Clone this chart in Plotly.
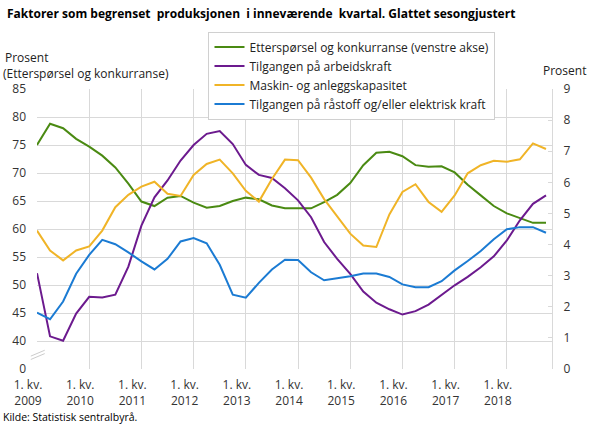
import plotly.graph_objects as go

years = list(range(2009, 2019))
quarters = [f"{y}K{q}" for y in years for q in range(1, 5)]
xidx = list(range(len(quarters)))

tick_positions = [i * 4 for i in range(10)]
tick_labels = [f"1. kv.<br>{y}" for y in years]

# Left axis (Etterspørsel og konkurranse), prosent
ettersporsel = [75.0, 78.8, 78.0, 76.1, 74.7, 73.1, 71.0, 68.1, 64.9, 64.1,
                65.6, 65.9, 64.7, 63.8, 64.1, 65.0, 65.6, 65.3, 64.2, 63.7,
                63.7, 63.7, 64.8, 66.1, 68.2, 71.4, 73.6, 73.8, 73.0, 71.4,
                71.1, 71.2, 70.1, 67.9, 66.0, 64.1, 62.8, 62.0, 61.1, 61.1]

# Right axis, prosent
arbeidskraft = [3.08, 1.05, 0.91, 1.78, 2.32, 2.30, 2.39, 3.29, 4.61, 5.52,
                6.06, 6.70, 7.20, 7.56, 7.65, 7.23, 6.56, 6.24, 6.14, 5.81,
                5.42, 4.88, 4.08, 3.54, 3.06, 2.49, 2.13, 1.92, 1.75, 1.86,
                2.07, 2.37, 2.69, 2.96, 3.27, 3.62, 4.13, 4.78, 5.31, 5.58]

maskin = [4.45, 3.81, 3.49, 3.81, 3.94, 4.45, 5.20, 5.60, 5.86, 6.02,
          5.63, 5.56, 6.24, 6.59, 6.73, 6.29, 5.73, 5.38, 6.11, 6.73,
          6.71, 6.15, 5.46, 4.90, 4.35, 3.97, 3.92, 4.97, 5.69, 5.94,
          5.37, 5.05, 5.58, 6.29, 6.55, 6.69, 6.66, 6.74, 7.25, 7.07]

raastoff = [1.81, 1.60, 2.17, 3.06, 3.67, 4.15, 4.01, 3.75, 3.46, 3.20,
            3.54, 4.10, 4.21, 4.04, 3.35, 2.39, 2.29, 2.77, 3.20, 3.51,
            3.50, 3.11, 2.85, 2.91, 2.98, 3.07, 3.07, 2.96, 2.72, 2.63,
            2.63, 2.82, 3.17, 3.47, 3.79, 4.17, 4.49, 4.56, 4.56, 4.38]

left_tickvals = [35, 40, 45, 50, 55, 60, 65, 70, 75, 80, 85]
left_ticktext = ["0", "40", "45", "50", "55", "60", "65", "70", "75", "80", "85"]

names = ["Etterspørsel og konkurranse (venstre akse)",
         "Tilgangen på arbeidskraft",
         "Maskin- og anleggskapasitet",
         "Tilgangen på råstoff og/eller elektrisk kraft"]
colors = ["#4a8a12", "#6c1a8e", "#f0b427", "#1b7bd3"]

FONT = "Open Sans"
fig = go.Figure()
fig.add_trace(go.Scatter(x=xidx, y=ettersporsel, name=names[0], mode="lines",
                         line=dict(color=colors[0], width=2), yaxis="y"))
fig.add_trace(go.Scatter(x=xidx, y=arbeidskraft, name=names[1], mode="lines",
                         line=dict(color=colors[1], width=2), yaxis="y2"))
fig.add_trace(go.Scatter(x=xidx, y=maskin, name=names[2], mode="lines",
                         line=dict(color=colors[2], width=2), yaxis="y2"))
fig.add_trace(go.Scatter(x=xidx, y=raastoff, name=names[3], mode="lines",
                         line=dict(color=colors[3], width=2), yaxis="y2"))

grid = "#d9d9d9"
fig.update_layout(
    width=590, height=427,
    margin=dict(l=37, r=38, t=89, b=58),
    paper_bgcolor="white", plot_bgcolor="white",
    font=dict(family=FONT, size=12, color="#222222"),
    showlegend=True,
    legend=dict(x=0.333, y=1.205, xanchor="left", yanchor="top",
                bgcolor="white", bordercolor="#d0d0d0", borderwidth=1,
                font=dict(family=FONT, size=12, color="#222222"),
                itemwidth=30, tracegroupgap=0),
    xaxis=dict(range=[0, 39.46], tickmode="array", tickvals=tick_positions,
               ticktext=tick_labels, showgrid=True, gridcolor=grid, gridwidth=1,
               zeroline=False, showline=False, ticks="", ticklabelshift=-9,
               ticklabelstandoff=7,
               tickfont=dict(size=12, color="#333333")),
    yaxis=dict(range=[35, 85], tickmode="array", tickvals=left_tickvals,
               ticktext=left_ticktext, showgrid=True, gridcolor=grid, gridwidth=1,
               zeroline=False, showline=False, ticks="", ticklabelstandoff=10,
               tickfont=dict(size=12, color="#333333")),
    yaxis2=dict(range=[0, 9], overlaying="y", side="right", dtick=1,
                showgrid=False, zeroline=False, showline=True, linecolor=grid,
                ticks="inside", ticklen=4, tickcolor=grid, ticklabelstandoff=8,
                tickfont=dict(size=12, color="#333333")),
)

fig.add_annotation(text="<b>Faktorer som begrenset  produksjonen  i inneværende  kvartal. Glattet sesongjustert</b>",
                   xref="paper", yref="paper", x=-0.063, y=1.27, xanchor="left", yanchor="middle",
                   showarrow=False, font=dict(family=FONT, size=12, color="#000000"))
fig.add_annotation(text="Prosent", xref="paper", yref="paper", x=-0.064, y=1.112,
                   xanchor="left", yanchor="middle", showarrow=False, borderpad=0,
                   font=dict(family=FONT, size=12, color="#222222"))
fig.add_annotation(text="(Etterspørsel og konkurranse)", xref="paper", yref="paper",
                   x=-0.068, y=1.055, xanchor="left", yanchor="middle", showarrow=False,
                   borderpad=0, font=dict(family=FONT, size=12, color="#222222"))
fig.add_annotation(text="Prosent", xref="paper", yref="paper", x=1.07, y=1.066,
                   xanchor="right", yanchor="middle", showarrow=False,
                   font=dict(family=FONT, size=12, color="#222222"))
fig.add_annotation(text="Kilde: Statistisk sentralbyrå.", xref="paper", yref="paper",
                   x=-0.07, y=-0.173, xanchor="left", yanchor="middle", showarrow=False,
                   font=dict(family=FONT, size=10.5, color="#000000"))

for off in (0.0, 0.012):
    fig.add_shape(type="line", xref="paper", yref="paper",
                  x0=-0.012, y0=0.034 + off, x1=0.015, y1=0.055 + off,
                  line=dict(color="#cccccc", width=1))

fig.write_html("out.html", config={"displayModeBar": False},
               post_script="document.body.style.margin='0';")
